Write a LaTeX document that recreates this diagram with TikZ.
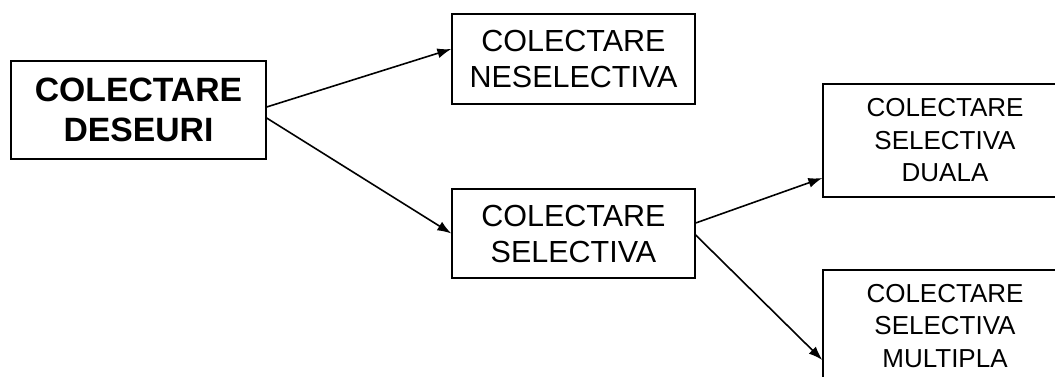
\documentclass[tikz,border=0pt]{standalone}
\usepackage{fontspec}
\setmainfont{Liberation Sans}
\usepackage{tikz}
\usetikzlibrary{arrows.meta}

\begin{document}
\begin{tikzpicture}[x=1pt, y=-1pt,
    box/.style={shape=rectangle, draw, line width=1.3pt, align=center, inner sep=0pt},
    wire/.style={-{Latex[length=14pt, width=10pt]}, line width=1.6pt}]
    	\useasboundingbox (0,0) rectangle (1055,376);
    	\clip (0,0) rectangle (1055,376);
    	% Paths, nodes and wires:
    	\node[box, minimum width=255pt, minimum height=98pt, font=\fontsize{33.7}{40}\selectfont\bfseries](N1) at (138.5, 110){COLECTARE\\DESEURI};
    	\node[box, minimum width=243pt, minimum height=90pt, font=\fontsize{30.5}{36}\selectfont](N2) at (573.5, 59){COLECTARE\\NESELECTIVA};
    	\node[box, minimum width=243pt, minimum height=89pt, font=\fontsize{30.5}{36}\selectfont](N3) at (573.5, 233.5){COLECTARE\\SELECTIVA};
    	\node[box, minimum width=244pt, minimum height=113pt, font=\fontsize{26}{32.5}\selectfont](N4) at (945, 140.5){COLECTARE\\SELECTIVA\\DUALA};
    	\node[box, minimum width=244pt, minimum height=112pt, font=\fontsize{26}{32.5}\selectfont](N5) at (945, 326){COLECTARE\\SELECTIVA\\MULTIPLA};
    	\draw[wire] ([yshift=3pt]N1.east) -- ([yshift=10pt]N2.west);
    	\draw[wire] ([yshift=-8pt]N1.east) -- (N3.west);
    	\draw[wire] ([yshift=10.5pt]N3.east) -- ([yshift=-37.5pt]N4.west);
    	\draw[wire] ([yshift=-1.5pt]N3.east) -- ([yshift=-34pt]N5.west);
    	\end{tikzpicture}
\end{document}
